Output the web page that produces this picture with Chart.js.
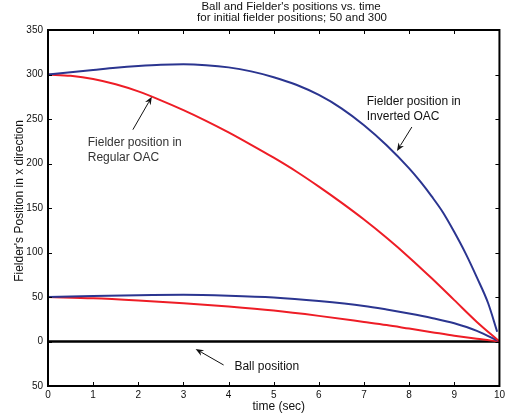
<!DOCTYPE html>
<html>
<head>
<meta charset="utf-8">
<script src="https://cdn.jsdelivr.net/npm/chart.js@4"></script>
<style>
  html, body { margin: 0; padding: 0; background: #fff; }
  #wrap { width: 508px; height: 417px; position: relative; }
</style>
</head>
<body>
<div id="wrap"><canvas id="chart"></canvas></div>
<script>
// Dados
const timeTop = [0, 0.5, 1, 1.5, 2, 2.5, 3, 3.5, 4, 4.5, 5, 5.5, 6, 6.5, 7, 7.5, 8, 8.25, 8.5, 8.75, 9, 9.25, 9.5, 9.75, 9.95];
const invertedFrom300 = [300, 302.5, 305, 307.5, 309.5, 311, 311.5, 310.5, 308, 303.5, 297, 288.5, 277, 262, 243, 220.5, 194.5, 179.5, 163, 145, 123, 99, 72, 43, 11];

const timeRegular = [0, 0.5, 1, 1.5, 2, 2.5, 3, 3.5, 4, 4.5, 5, 5.5, 6, 6.5, 7, 7.5, 8, 8.5, 9, 9.5, 10];
const regularFrom300 = [300, 298.5, 295, 289, 281, 271, 260, 248, 235, 221, 206.5, 191, 174, 156, 137, 116.5, 94.5, 71, 46.5, 22, 0];

const timeLow = [0, 1, 2, 3, 4, 5, 6, 7, 7.5, 8, 8.5, 9, 9.5, 10];
const invertedFrom50 = [50, 51, 52, 52.5, 51.5, 49.5, 45.5, 40, 36, 31.5, 26.5, 20.5, 12, 0];
const regularFrom50 = [50, 48.5, 46, 43, 39.3, 34.8, 28.8, 22, 18.5, 14.5, 10.5, 6.5, 3, 0];

const timeBall = [0, 10];
const ballPosition = [0, 0];

const xTicks = [0, 1, 2, 3, 4, 5, 6, 7, 8, 9, 10];
const yTicks = [-50, 0, 50, 100, 150, 200, 250, 300, 350];

const titleLines = ["Ball and Fielder's positions vs. time", 'for initial fielder positions; 50 and 300'];

const BLUE = '#2b3590';
const RED = '#ee1d26';
const FONT = '"Liberation Sans", Arial, Helvetica, sans-serif';

function pts(xs, ys) {
    return xs.map((x, i) => ({ x: x, y: ys[i] }));
}

function line(data, color, width) {
    return {
        data: data,
        borderColor: color,
        borderWidth: width,
        pointRadius: 0,
        fill: false,
        cubicInterpolationMode: 'monotone'
    };
}

// Anotações (em coordenadas de dados)
const notes = [
    { lines: ['Fielder position in', 'Regular OAC'], tx: 0.88, ty: 223, from: [1.88, 238], to: [2.30, 275] },
    { lines: ['Fielder position in', 'Inverted OAC'], tx: 7.06, ty: 269, from: [8.06, 241], to: [7.73, 214] },
    { lines: ['Ball position'], tx: 4.13, ty: -28.6, from: [3.89, -26.4], to: [3.27, -8.4] }
];

function arrow(ctx, x1, y1, x2, y2) {
    const a = Math.atan2(y2 - y1, x2 - x1);
    const len = 8, w = 3.2;
    ctx.strokeStyle = '#111';
    ctx.fillStyle = '#111';
    ctx.lineWidth = 1;
    ctx.beginPath();
    ctx.moveTo(x1, y1);
    ctx.lineTo(x2 - Math.cos(a) * len * 0.8, y2 - Math.sin(a) * len * 0.8);
    ctx.stroke();
    ctx.beginPath();
    ctx.moveTo(x2, y2);
    ctx.lineTo(x2 - Math.cos(a) * len - Math.sin(a) * w, y2 - Math.sin(a) * len + Math.cos(a) * w);
    ctx.lineTo(x2 - Math.cos(a) * len * 0.7, y2 - Math.sin(a) * len * 0.7);
    ctx.lineTo(x2 - Math.cos(a) * len + Math.sin(a) * w, y2 - Math.sin(a) * len - Math.cos(a) * w);
    ctx.closePath();
    ctx.fill();
}

const matlabFrame = {
    id: 'matlabFrame',
    afterDatasetsDraw(chart) {
        const ctx = chart.ctx;
        const a = chart.chartArea;
        const xs = chart.scales.x, ys = chart.scales.y;
        ctx.save();

        // caixa e marcas internas
        ctx.strokeStyle = '#000';
        ctx.lineWidth = 2;
        ctx.strokeRect(a.left, a.top, a.right - a.left, a.bottom - a.top);
        ctx.lineWidth = 1;
        ctx.beginPath();
        xTicks.forEach(v => {
            const px = Math.round(xs.getPixelForValue(v)) + 0.5;
            ctx.moveTo(px, a.bottom); ctx.lineTo(px, a.bottom - 4);
            ctx.moveTo(px, a.top); ctx.lineTo(px, a.top + 4);
        });
        yTicks.forEach(v => {
            const py = Math.round(ys.getPixelForValue(v)) + 0.5;
            ctx.moveTo(a.left, py); ctx.lineTo(a.left + 4, py);
            ctx.moveTo(a.right, py); ctx.lineTo(a.right - 4, py);
        });
        ctx.stroke();

        // título
        ctx.fillStyle = '#111';
        ctx.textAlign = 'center';
        ctx.textBaseline = 'middle';
        ctx.font = '11.5px ' + FONT;
        ctx.fillText(titleLines[0], 291, 7);
        ctx.fillText(titleLines[1], 292, 17.5);

        // títulos dos eixos
        const cx = (a.left + a.right) / 2;
        ctx.font = '12px ' + FONT;
        ctx.fillText('time (sec)', cx + 5, 407);
        ctx.save();
        ctx.translate(20, (a.top + a.bottom) / 2 - 7);
        ctx.rotate(-Math.PI / 2);
        ctx.fillText("Fielder's Position in x direction", 0, 0);
        ctx.restore();

        // anotações
        ctx.textAlign = 'left';
        ctx.fillStyle = '#333';
        notes.forEach(n => {
            const x = xs.getPixelForValue(n.tx);
            const y = ys.getPixelForValue(n.ty);
            n.lines.forEach((t, i) => ctx.fillText(t, x, y + i * 15));
            arrow(ctx,
                xs.getPixelForValue(n.from[0]), ys.getPixelForValue(n.from[1]),
                xs.getPixelForValue(n.to[0]), ys.getPixelForValue(n.to[1]));
        });
        ctx.restore();
    }
};

new Chart(document.getElementById('chart').getContext('2d'), {
    type: 'line',
    data: {
        datasets: [
            line(pts(timeTop, invertedFrom300), BLUE, 2),
            line(pts(timeRegular, regularFrom300), RED, 2),
            line(pts(timeLow, invertedFrom50), BLUE, 2),
            line(pts(timeLow, regularFrom50), RED, 2),
            line(pts(timeBall, ballPosition), '#000', 2.5)
        ]
    },
    options: {
        responsive: true,
        maintainAspectRatio: false,
        animation: false,
        layout: { padding: { left: 0, right: 7, top: 30, bottom: 0 } },
        plugins: {
            legend: { display: false },
            tooltip: { enabled: false }
        },
        scales: {
            x: {
                type: 'linear',
                min: 0,
                max: 10,
                afterFit: s => { s.height = 31; },
                afterBuildTicks: s => { s.ticks = xTicks.map(v => ({ value: v })); },
                grid: { display: false, drawTicks: false },
                border: { display: false },
                ticks: { padding: 3, color: '#111', font: { family: FONT, size: 10 } }
            },
            y: {
                min: -50,
                max: 350,
                afterFit: s => { s.width = 48; },
                afterBuildTicks: s => { s.ticks = yTicks.map(v => ({ value: v })); },
                grid: { display: false, drawTicks: false },
                border: { display: false },
                ticks: {
                    padding: 5,
                    color: '#111',
                    font: { family: FONT, size: 10 },
                    callback: v => String(Math.abs(v))
                }
            }
        }
    },
    plugins: [matlabFrame]
});
</script>
</body>
</html>
